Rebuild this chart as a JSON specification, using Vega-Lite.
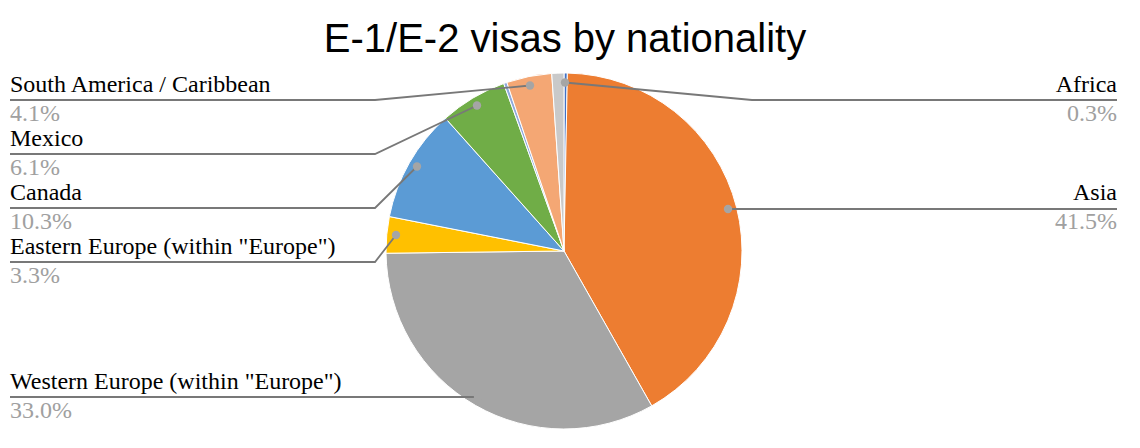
{
  "$schema": "https://vega.github.io/schema/vega-lite/v6.json",
  "width": 1140,
  "height": 386,
  "autosize": {"type": "none"},
  "padding": {"top": 62, "left": 0, "right": 0, "bottom": 0},
  "background": "white",
  "config": {"view": {"stroke": null}},
  "title": {
    "text": "E-1/E-2 visas by nationality",
    "font": "Liberation Sans",
    "fontSize": 40,
    "fontWeight": "normal",
    "color": "#000000",
    "anchor": "middle",
    "frame": "group",
    "baseline": "alphabetic",
    "offset": 10,
    "dy": 40,
    "dx": -5
  },
  "datasets": {
    "slices": [
      {"category": "Africa", "share": 0.003, "order": 1},
      {"category": "Asia", "share": 0.415, "order": 2},
      {"category": "Western Europe (within \"Europe\")", "share": 0.330, "order": 3},
      {"category": "Eastern Europe (within \"Europe\")", "share": 0.033, "order": 4},
      {"category": "Canada", "share": 0.103, "order": 5},
      {"category": "Mexico", "share": 0.061, "order": 6},
      {"category": "Oceania", "share": 0.003, "order": 7},
      {"category": "South America / Caribbean", "share": 0.041, "order": 8},
      {"category": "Other", "share": 0.011, "order": 9}
    ],
    "labels": [
      {"category": "South America / Caribbean", "side": "left", "x": 10, "y": 100},
      {"category": "Mexico", "side": "left", "x": 10, "y": 154},
      {"category": "Canada", "side": "left", "x": 10, "y": 208},
      {"category": "Eastern Europe (within \"Europe\")", "side": "left", "x": 10, "y": 262},
      {"category": "Western Europe (within \"Europe\")", "side": "left", "x": 10, "y": 397},
      {"category": "Africa", "side": "right", "x": 1117, "y": 100},
      {"category": "Asia", "side": "right", "x": 1117, "y": 208}
    ],
    "leaders": [
      {"category": "South America / Caribbean", "pt": 0, "x": 530, "y": 85.5},
      {"category": "South America / Caribbean", "pt": 1, "x": 375, "y": 100},
      {"category": "South America / Caribbean", "pt": 2, "x": 10, "y": 100},
      {"category": "Mexico", "pt": 0, "x": 477, "y": 105.5},
      {"category": "Mexico", "pt": 1, "x": 375, "y": 154},
      {"category": "Mexico", "pt": 2, "x": 10, "y": 154},
      {"category": "Canada", "pt": 0, "x": 417, "y": 166.5},
      {"category": "Canada", "pt": 1, "x": 375, "y": 208},
      {"category": "Canada", "pt": 2, "x": 10, "y": 208},
      {"category": "Eastern Europe (within \"Europe\")", "pt": 0, "x": 396, "y": 235},
      {"category": "Eastern Europe (within \"Europe\")", "pt": 1, "x": 375, "y": 262},
      {"category": "Eastern Europe (within \"Europe\")", "pt": 2, "x": 10, "y": 262},
      {"category": "Western Europe (within \"Europe\")", "pt": 0, "x": 478, "y": 397},
      {"category": "Western Europe (within \"Europe\")", "pt": 1, "x": 10, "y": 397},
      {"category": "Africa", "pt": 0, "x": 565, "y": 82.5},
      {"category": "Africa", "pt": 1, "x": 752, "y": 100},
      {"category": "Africa", "pt": 2, "x": 1117, "y": 100},
      {"category": "Asia", "pt": 0, "x": 728, "y": 209},
      {"category": "Asia", "pt": 1, "x": 1117, "y": 209}
    ]
  },
  "layer": [
    {
      "data": {"name": "slices"},
      "mark": {"type": "arc", "outerRadius": 178, "stroke": "white", "strokeWidth": 1},
      "encoding": {
        "x": {"datum": 564, "type": "quantitative", "scale": {"domain": [0, 1140], "nice": false, "zero": false}, "axis": null},
        "y": {"datum": 251, "type": "quantitative", "scale": {"domain": [62, 448], "nice": false, "zero": false, "reverse": true}, "axis": null},
        "theta": {"field": "share", "type": "quantitative", "stack": true},
        "order": {"field": "order", "type": "quantitative"},
        "color": {
          "field": "category",
          "type": "nominal",
          "legend": null,
          "scale": {
            "domain": ["Africa", "Asia", "Western Europe (within \"Europe\")", "Eastern Europe (within \"Europe\")", "Canada", "Mexico", "Oceania", "South America / Caribbean", "Other"],
            "range": ["#4472C4", "#ED7D31", "#A5A5A5", "#FFC000", "#5B9BD5", "#70AD47", "#8FAADC", "#F4A774", "#C9C9C9"]
          }
        }
      }
    },
    {
      "data": {"name": "leaders"},
      "mark": {"type": "line", "color": "#787878", "strokeWidth": 1.8},
      "encoding": {
        "x": {"field": "x", "type": "quantitative", "scale": {"domain": [0, 1140], "nice": false, "zero": false}, "axis": null},
        "y": {"field": "y", "type": "quantitative", "scale": {"domain": [62, 448], "nice": false, "zero": false, "reverse": true}, "axis": null},
        "detail": {"field": "category", "type": "nominal"},
        "order": {"field": "pt", "type": "quantitative"}
      }
    },
    {
      "data": {"name": "leaders"},
      "transform": [{"filter": "datum.pt == 0"}],
      "mark": {"type": "point", "filled": true, "color": "#A5A5A5", "opacity": 1, "size": 70},
      "encoding": {
        "x": {"field": "x", "type": "quantitative", "axis": null},
        "y": {"field": "y", "type": "quantitative", "axis": null}
      }
    },
    {
      "data": {"name": "labels"},
      "transform": [{"filter": "datum.side == 'left'"}],
      "mark": {"type": "text", "align": "left", "baseline": "alphabetic", "dy": -8, "font": "Liberation Serif", "fontSize": 24, "color": "#000000"},
      "encoding": {
        "x": {"field": "x", "type": "quantitative", "axis": null},
        "y": {"field": "y", "type": "quantitative", "axis": null},
        "text": {"field": "category", "type": "nominal"}
      }
    },
    {
      "data": {"name": "labels"},
      "transform": [{"filter": "datum.side == 'right'"}],
      "mark": {"type": "text", "align": "right", "baseline": "alphabetic", "dy": -8, "font": "Liberation Serif", "fontSize": 24, "color": "#000000"},
      "encoding": {
        "x": {"field": "x", "type": "quantitative", "axis": null},
        "y": {"field": "y", "type": "quantitative", "axis": null},
        "text": {"field": "category", "type": "nominal"}
      }
    },
    {
      "data": {"name": "labels"},
      "transform": [
        {"filter": "datum.side == 'left'"},
        {"lookup": "category", "from": {"data": {"name": "slices"}, "key": "category", "fields": ["share"]}}
      ],
      "mark": {"type": "text", "align": "left", "baseline": "alphabetic", "dy": 21, "font": "Liberation Serif", "fontSize": 24, "color": "#A0A0A0"},
      "encoding": {
        "x": {"field": "x", "type": "quantitative", "axis": null},
        "y": {"field": "y", "type": "quantitative", "axis": null},
        "text": {"field": "share", "type": "quantitative", "format": ".1%"}
      }
    },
    {
      "data": {"name": "labels"},
      "transform": [
        {"filter": "datum.side == 'right'"},
        {"lookup": "category", "from": {"data": {"name": "slices"}, "key": "category", "fields": ["share"]}}
      ],
      "mark": {"type": "text", "align": "right", "baseline": "alphabetic", "dy": 21, "font": "Liberation Serif", "fontSize": 24, "color": "#A0A0A0"},
      "encoding": {
        "x": {"field": "x", "type": "quantitative", "axis": null},
        "y": {"field": "y", "type": "quantitative", "axis": null},
        "text": {"field": "share", "type": "quantitative", "format": ".1%"}
      }
    }
  ]
}
